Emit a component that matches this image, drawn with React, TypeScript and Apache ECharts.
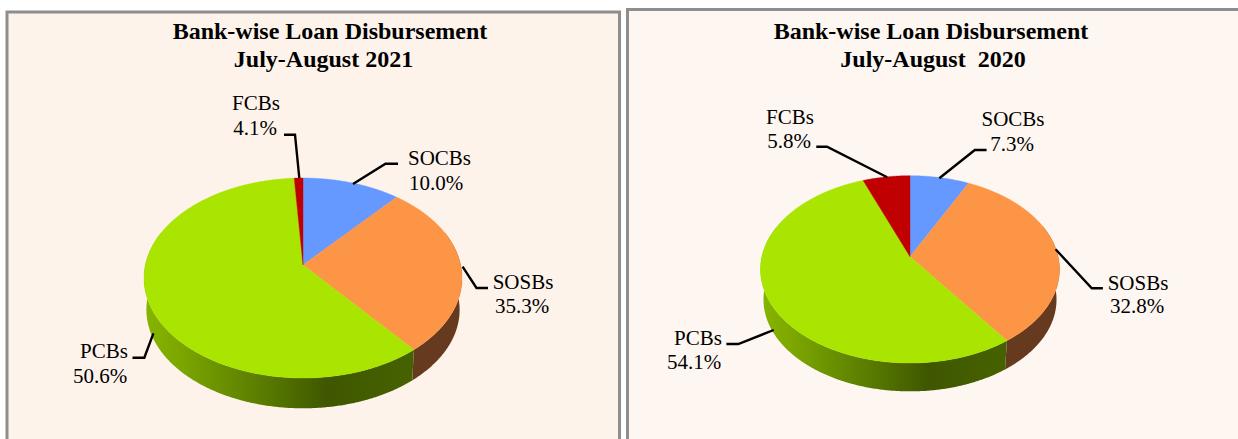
import React, { useEffect, useRef } from "react";
import * as echarts from "echarts";

const categories = ["SOCBs", "SOSBs", "PCBs", "FCBs"];
const labels2021 = ["10.0%", "35.3%", "50.6%", "4.1%"];
const labels2020 = ["7.3%", "32.8%", "54.1%", "5.8%"];
// Slice shares as drawn in the picture (the 2021 drawing differs from its printed labels)
const drawn2021 = [11.3, 27.8, 59.9, 1.0];
const drawn2020 = [7.3, 32.8, 54.1, 5.8];
const titleLine1 = "Bank-wise Loan Disbursement";
const title2021 = "July-August 2021";
const title2020 = "July-August  2020";

const FONT = '"Liberation Serif", "Times New Roman", serif';
const TOP_COLORS = ["#6699FF", "#FC9646", "#A9E500", "#C00000"];
const RIM_SOLID = ["#3A5A99", "#653A1E", "#4A6A00", "#700000"];
const PCB_RIM = [
  { offset: 0, color: "#86B500" },
  { offset: 0.12, color: "#7DA800" },
  { offset: 0.45, color: "#587A00" },
  { offset: 0.68, color: "#3F5700" },
  { offset: 1, color: "#466200" },
];

type Pt = [number, number];
interface PieLayout {
  cx: number; apexY: number; up: number; down: number; rx: number;
  rimDrop: number; rimScale: number;
  nameAt: Pt[]; valueAt: Pt[]; leaders: Pt[][];
}

const layout2021: PieLayout = {
  cx: 303, apexY: 265, up: 87, down: 113, rx: 159, rimDrop: 32, rimScale: 0.985,
  nameAt: [[439.5, 158], [523, 282], [104, 351], [256, 103]],
  valueAt: [[436, 183], [522, 306], [100, 376], [255, 128]],
  leaders: [
    [[398, 163.7], [385.5, 163.7], [353, 184]],
    [[462.6, 266.7], [476.5, 288], [488, 288]],
    [[153.4, 333.3], [144.3, 357.7], [132.5, 357.7]],
    [[284, 134.7], [295, 134.7], [299.3, 178]],
  ],
};
const layout2020: PieLayout = {
  cx: 910, apexY: 256.7, up: 81, down: 106.3, rx: 149.5, rimDrop: 30.5, rimScale: 0.98,
  nameAt: [[1013, 119], [1138, 283], [698, 338], [790, 117]],
  valueAt: [[1012, 144], [1137, 306], [694, 362], [789, 141]],
  leaders: [
    [[986.6, 150], [974.8, 150], [939.3, 178.3]],
    [[1055.6, 249.3], [1091.8, 288.3], [1102.9, 288.3]],
    [[773.7, 330], [738.3, 344], [726.4, 344]],
    [[816.3, 146.7], [827, 146.7], [887.2, 177.3]],
  ],
};

// Perspective map of a tilted disc: the disc's centre projects onto the apex, its rim onto an ellipse.
function projector(l: PieLayout) {
  const k = (l.down - l.up) / (l.down + l.up);
  const a = l.up * (1 + k);
  const b = l.rx * Math.sqrt(1 - k * k);
  return (deg: number, scale: number, drop: number): Pt => {
    const t = (deg * Math.PI) / 180;
    const u = Math.sin(t);
    const v = -Math.cos(t);
    const w = 1 / (1 - k * v);
    return [l.cx + scale * b * u * w, l.apexY + drop + scale * a * v * w];
  };
}

function arc(from: number, to: number) {
  const out: number[] = [];
  const n = Math.max(2, Math.ceil((to - from) / 0.5));
  for (let i = 0; i <= n; i++) out.push(from + ((to - from) * i) / n);
  return out;
}

function buildChildren(shares: number[], values: string[], l: PieLayout) {
  const project = projector(l);
  const total = shares.reduce((s, v) => s + v, 0);
  const kids: any[] = [];
  let start = 0;
  const spans = shares.map((s) => {
    const span: [number, number] = [start, start + (s / total) * 360];
    start = span[1];
    return span;
  });

  // rim (front part only), then the top surface over it
  spans.forEach(([a0, a1], i) => {
    const from = Math.max(a0, 70);
    const to = Math.min(a1, 290);
    if (to <= from) return;
    const angles = arc(from, to);
    const pts = [
      ...angles.map((d) => project(d, 1, 0)),
      ...angles.slice().reverse().map((d) => project(d, l.rimScale, l.rimDrop)),
    ];
    const fill =
      categories[i] === "PCBs"
        ? new echarts.graphic.LinearGradient(0, 0, 1, 0, PCB_RIM)
        : RIM_SOLID[i];
    kids.push({ type: "polygon", shape: { points: pts }, style: { fill } });
  });
  spans.forEach(([a0, a1], i) => {
    const pts: Pt[] = [[l.cx, l.apexY], ...arc(a0, a1).map((d) => project(d, 1, 0))];
    kids.push({
      type: "polygon",
      shape: { points: pts },
      style: { fill: TOP_COLORS[i], stroke: TOP_COLORS[i], lineWidth: 0.4 },
    });
  });

  categories.forEach((name, i) => {
    kids.push({
      type: "polyline",
      shape: { points: l.leaders[i] },
      style: { stroke: "#000", lineWidth: 2.4, fill: "none" },
    });
    kids.push({
      type: "text",
      x: l.nameAt[i][0],
      y: l.nameAt[i][1],
      style: { text: name, font: `21px ${FONT}`, fill: "#000", align: "center", verticalAlign: "middle" },
    });
    kids.push({
      type: "text",
      x: l.valueAt[i][0],
      y: l.valueAt[i][1],
      style: { text: values[i], font: `21px ${FONT}`, fill: "#000", align: "center", verticalAlign: "middle" },
    });
  });
  return kids;
}

function pieSeries(shares: number[], values: string[], l: PieLayout) {
  return {
    type: "custom",
    coordinateSystem: "none",
    silent: true,
    z: 5,
    data: [0],
    renderItem: () => ({ type: "group", children: buildChildren(shares, values, l) }),
  };
}

function heading(text: string, x: number, y: number) {
  return {
    text,
    left: x,
    top: y,
    textAlign: "center",
    textVerticalAlign: "middle",
    padding: 0,
    textStyle: { fontFamily: FONT, fontSize: 24, fontWeight: "bold", color: "#000" },
  };
}

export default function App() {
  const ref = useRef<HTMLDivElement>(null);
  useEffect(() => {
    const chart = echarts.init(ref.current!, undefined, { renderer: "svg" });
    chart.setOption({
      animation: false,
      backgroundColor: "#FFFFFF",
      title: [
        heading(titleLine1, 330, 31),
        heading(title2021, 323.5, 59),
        heading(titleLine1, 931, 31),
        heading(title2020, 933, 59),
      ],
      graphic: [
        { type: "rect", z: 0, shape: { x: 7, y: 12, width: 612.5, height: 440 }, style: { fill: "#FEF3EB", stroke: "#8E8E8E", lineWidth: 3 } },
        { type: "rect", z: 0, shape: { x: 627.5, y: 9.5, width: 620, height: 440 }, style: { fill: "#FEF6F0", stroke: "#8E8E8E", lineWidth: 3 } },
      ],
      series: [
        pieSeries(drawn2021, labels2021, layout2021),
        pieSeries(drawn2020, labels2020, layout2020),
      ],
    });
    return () => chart.dispose();
  }, []);
  return (
    <div
      ref={ref}
      style={{ position: "fixed", left: 0, top: 0, width: 1238, height: 439, overflow: "hidden" }}
    />
  );
}
